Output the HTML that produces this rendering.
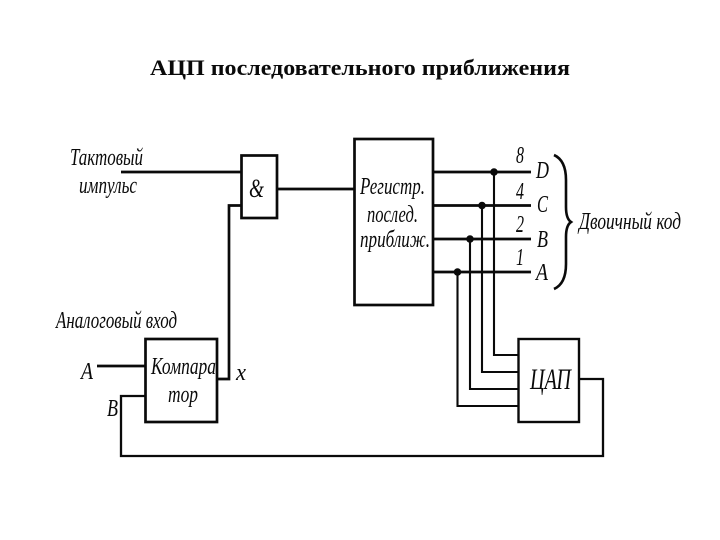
<!DOCTYPE html>
<html>
<head>
<meta charset="utf-8">
<style>
html,body{margin:0;padding:0;background:#fff;width:720px;height:540px;overflow:hidden}
svg{display:block}
text{font-family:"Liberation Serif","Noto Serif CJK SC",serif;fill:#0a0a0a}
.i{font-style:italic;font-size:24px}
</style>
</head>
<body>
<svg width="720" height="540" viewBox="0 0 720 540" xmlns="http://www.w3.org/2000/svg">
<rect width="720" height="540" fill="#fff"/>
<text x="150" y="75" font-size="22.5" font-weight="bold" textLength="420" lengthAdjust="spacingAndGlyphs">АЦП последовательного приближения</text>
<g fill="none" stroke="#0a0a0a" stroke-width="2.700">
  <rect x="241.500" y="155.500" width="35.500" height="62.500"/>
  <rect x="354.500" y="139" width="78.500" height="166"/>
  <rect x="145.500" y="339" width="71.500" height="83"/>
  <rect x="518.500" y="339" width="60.500" height="83" stroke-width="2.400"/>
  <path d="M121 172H241M277 189H354"/>
  <path d="M241 205.500H229V379H217"/>
  <path d="M433 172H531M433 205.500H531M433 239H531M433 272H531"/>
  <path d="M97 366H145"/>
  <path d="M145 396H121V456H603V379H579" stroke-width="2.300"/>
  <path d="M494 172V355H518M482 205.500V372H518M470 239V389H518M457.500 272V406H518" stroke-width="2.100"/>
  <path d="M554 155C563 159 566 168 566 180V207C566 215 568 220 571 222C568 224 566 229 566 237V264C566 276 563 285 554 289" stroke-width="2.600"/>
</g>
<g fill="#0a0a0a">
  <circle cx="494" cy="172" r="3.800"/>
  <circle cx="482" cy="205.500" r="3.800"/>
  <circle cx="470" cy="239" r="3.800"/>
  <circle cx="457.500" cy="272" r="3.800"/>
</g>
<g>
  <text class="i" x="70" y="165" textLength="73" lengthAdjust="spacingAndGlyphs">Тактовый</text>
  <text class="i" x="79" y="193" textLength="58" lengthAdjust="spacingAndGlyphs">импульс</text>
  <text class="i" x="249" y="197" style="font-size:26px" textLength="15" lengthAdjust="spacingAndGlyphs">&amp;</text>
  <text class="i" x="360" y="194" textLength="65" lengthAdjust="spacingAndGlyphs">Регистр.</text>
  <text class="i" x="367" y="222" textLength="51" lengthAdjust="spacingAndGlyphs">послед.</text>
  <text class="i" x="360" y="247" textLength="70" lengthAdjust="spacingAndGlyphs">приближ.</text>
  <text class="i" x="516" y="163" textLength="8" lengthAdjust="spacingAndGlyphs">8</text>
  <text class="i" x="516" y="199" textLength="8" lengthAdjust="spacingAndGlyphs">4</text>
  <text class="i" x="516" y="232" textLength="8" lengthAdjust="spacingAndGlyphs">2</text>
  <text class="i" x="516" y="265" textLength="8" lengthAdjust="spacingAndGlyphs">1</text>
  <text class="i" x="536" y="178" textLength="13" lengthAdjust="spacingAndGlyphs">D</text>
  <text class="i" x="537" y="212" textLength="11" lengthAdjust="spacingAndGlyphs">C</text>
  <text class="i" x="537" y="247" textLength="11" lengthAdjust="spacingAndGlyphs">B</text>
  <text class="i" x="536" y="280" textLength="12" lengthAdjust="spacingAndGlyphs">A</text>
  <text class="i" x="579" y="229" textLength="102" lengthAdjust="spacingAndGlyphs">Двоичный код</text>
  <text class="i" x="56" y="328" textLength="121" lengthAdjust="spacingAndGlyphs">Аналоговый вход</text>
  <text class="i" x="81" y="379" textLength="12" lengthAdjust="spacingAndGlyphs">A</text>
  <text class="i" x="107" y="416" textLength="11" lengthAdjust="spacingAndGlyphs">B</text>
  <text class="i" x="151" y="374" textLength="65" lengthAdjust="spacingAndGlyphs">Компара</text>
  <text class="i" x="168" y="402" textLength="30" lengthAdjust="spacingAndGlyphs">тор</text>
  <text class="i" x="236" y="380" textLength="10" lengthAdjust="spacingAndGlyphs">x</text>
  <text class="i" x="530" y="389" style="font-size:30px" textLength="41" lengthAdjust="spacingAndGlyphs">ЦАП</text>
</g>
</svg>
</body>
</html>
